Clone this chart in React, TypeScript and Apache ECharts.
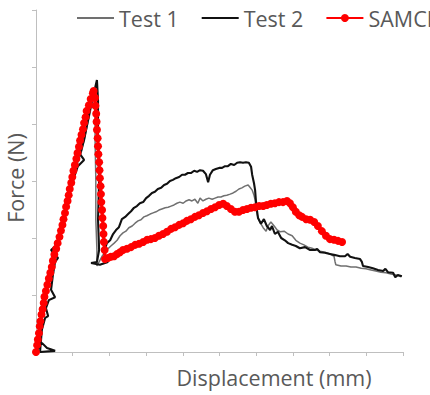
import { useEffect, useRef } from "react";
import * as echarts from "echarts";

const FONT = "'Open Sans', Lato, sans-serif";
const TEXT_COLOR = "#595959";
const AXIS_COLOR = "#bfbfbf";
const TEST1_COLOR = "#707070";
const TEST2_COLOR = "#111111";
const SAMCEF_COLOR = "#ff0000";

const seriesNames = ["Test 1", "Test 2", "SAMCEF"];
const xTitle = "Displacement (mm)";
const yTitle = "Force (N)";

// axis ranges (tick labels are not shown on this figure)
const xRange = { min: 0, max: 10, interval: 1 };
const yRange = { min: 0, max: 600, interval: 100 };

// Test 1: [displacement (mm), force (N)]
const test1Points: [number, number][] = [
  [0, 0], [0.08, 30], [0.14, 56], [0.22, 86], [0.27, 109], [0.35, 135],
  [0.44, 158], [0.52, 179], [0.6, 200], [0.71, 228], [0.82, 254], [0.93, 281],
  [1.04, 305], [1.14, 333], [1.25, 354], [1.34, 381], [1.42, 404], [1.5, 428],
  [1.55, 446], [1.58, 451], [1.61, 407], [1.61, 372], [1.63, 302], [1.63, 232],
  [1.66, 179], [1.66, 151], [1.72, 158], [1.8, 168], [1.88, 175], [1.96, 181],
  [2.04, 186], [2.13, 191], [2.21, 196], [2.29, 204], [2.37, 209], [2.45, 212],
  [2.53, 218], [2.62, 221], [2.7, 226], [2.78, 230], [2.86, 232], [2.94, 237],
  [3.02, 239], [3.11, 242], [3.19, 244], [3.27, 246], [3.35, 249], [3.43, 251],
  [3.52, 253], [3.6, 254], [3.68, 256], [3.76, 258], [3.84, 261], [3.92, 263],
  [4.01, 261], [4.09, 265], [4.17, 267], [4.25, 265], [4.33, 268], [4.41, 261],
  [4.47, 270], [4.55, 265], [4.63, 268], [4.71, 270], [4.8, 268], [4.88, 270],
  [4.96, 272], [5.04, 272], [5.12, 274], [5.2, 275], [5.29, 277], [5.37, 279],
  [5.45, 282], [5.53, 286], [5.61, 288], [5.69, 291], [5.78, 293], [5.83, 289],
  [5.89, 284], [5.94, 275], [5.97, 267], [5.99, 254], [6.02, 244], [6.05, 235],
  [6.1, 228], [6.19, 218], [6.27, 212], [6.32, 221], [6.4, 228], [6.49, 221],
  [6.57, 214], [6.65, 211], [6.76, 212], [6.87, 207], [6.98, 204], [7.08, 196],
  [7.19, 191], [7.3, 188], [7.41, 184], [7.52, 182], [7.63, 179], [7.74, 177],
  [7.87, 175], [8.01, 172], [8.12, 168], [8.15, 158], [8.17, 153], [8.31, 151],
  [8.45, 151], [8.58, 149], [8.72, 149], [8.86, 147], [8.99, 146], [9.13, 144],
  [9.26, 142], [9.4, 140], [9.54, 139], [9.67, 137], [9.81, 135], [9.95, 132],
];

// Test 2: [displacement (mm), force (N)]
const test2Points: [number, number][] = [
  [0, 0], [0.08, 9], [0.16, 16], [0.3, 7], [0.52, 2], [0.11, 0],
  [0.16, 39], [0.25, 60], [0.33, 63], [0.27, 77], [0.35, 91], [0.52, 96],
  [0.41, 109], [0.46, 135], [0.52, 158], [0.6, 165], [0.41, 179], [0.57, 188],
  [0.65, 211], [0.74, 232], [0.82, 258], [0.93, 284], [1.04, 307], [1.14, 326],
  [1.31, 337], [1.2, 347], [1.31, 372], [1.39, 398], [1.47, 425], [1.53, 442],
  [1.61, 463], [1.66, 477], [1.69, 442], [1.69, 372], [1.72, 302], [1.69, 232],
  [1.72, 179], [1.66, 158], [1.5, 156], [1.74, 153], [1.96, 158], [1.85, 175],
  [1.93, 191], [2.02, 196], [2.1, 207], [2.18, 214], [2.26, 219], [2.34, 233],
  [2.43, 237], [2.51, 242], [2.59, 247], [2.67, 253], [2.75, 256], [2.83, 261],
  [2.92, 263], [3.0, 270], [3.08, 274], [3.16, 279], [3.24, 281], [3.32, 286],
  [3.41, 288], [3.49, 293], [3.57, 295], [3.65, 300], [3.73, 302], [3.81, 305],
  [3.9, 307], [3.98, 311], [4.06, 311], [4.14, 314], [4.22, 314], [4.31, 318],
  [4.39, 316], [4.47, 319], [4.55, 318], [4.63, 312], [4.69, 298], [4.74, 311],
  [4.82, 319], [4.9, 321], [4.99, 323], [5.07, 323], [5.15, 326], [5.23, 326],
  [5.31, 330], [5.4, 328], [5.48, 332], [5.56, 333], [5.64, 332], [5.72, 333],
  [5.8, 332], [5.86, 325], [5.89, 311], [5.94, 296], [5.97, 284], [5.99, 267],
  [6.02, 249], [6.05, 235], [6.13, 225], [6.21, 233], [6.29, 221], [6.38, 214],
  [6.43, 221], [6.51, 207], [6.59, 211], [6.68, 200], [6.78, 196], [6.87, 191],
  [6.98, 188], [7.08, 186], [7.19, 182], [7.33, 184], [7.47, 179], [7.6, 179],
  [7.66, 181], [7.74, 175], [7.87, 174], [8.01, 172], [8.15, 170], [8.28, 168],
  [8.42, 168], [8.49, 172], [8.56, 167], [8.69, 165], [8.83, 163], [8.88, 158],
  [8.91, 151], [9.05, 149], [9.18, 147], [9.32, 144], [9.46, 142], [9.52, 146],
  [9.59, 140], [9.73, 139], [9.79, 131], [9.86, 135], [9.97, 133],
];

// SAMCEF simulation: [displacement (mm), force (N)]
const samcefPoints: [number, number][] = [
  [0, 0], [0.03, 12], [0.05, 22], [0.08, 33], [0.1, 45], [0.12, 54],
  [0.15, 66], [0.18, 75], [0.21, 86], [0.23, 97], [0.27, 107], [0.31, 118],
  [0.35, 129], [0.39, 139], [0.43, 149], [0.46, 160], [0.5, 171], [0.55, 181],
  [0.59, 191], [0.64, 202], [0.68, 213], [0.72, 223], [0.75, 233], [0.79, 244],
  [0.82, 255], [0.86, 265], [0.89, 275], [0.92, 286], [0.96, 297], [0.99, 307],
  [1.02, 318], [1.06, 328], [1.1, 339], [1.13, 349], [1.17, 360], [1.2, 371],
  [1.24, 381], [1.28, 391], [1.31, 402], [1.35, 412], [1.38, 423], [1.44, 433],
  [1.49, 444], [1.55, 454], [1.57, 458],
  [1.61, 446], [1.62, 432], [1.64, 418], [1.65, 404], [1.66, 390], [1.68, 375],
  [1.69, 361], [1.7, 347], [1.72, 333], [1.73, 319], [1.74, 305], [1.76, 291],
  [1.77, 277], [1.78, 263], [1.8, 249], [1.81, 235], [1.83, 221], [1.84, 207],
  [1.85, 193], [1.87, 179],
  [1.88, 163], [1.96, 165], [2.04, 167], [2.13, 168], [2.21, 172], [2.29, 175],
  [2.37, 179], [2.48, 181], [2.59, 184], [2.7, 188], [2.81, 190], [2.92, 193],
  [3.03, 197], [3.13, 198], [3.24, 200], [3.35, 204], [3.46, 207], [3.57, 211],
  [3.68, 216], [3.79, 219], [3.9, 223], [4.01, 226], [4.11, 230], [4.22, 233],
  [4.33, 237], [4.44, 240], [4.55, 244], [4.66, 247], [4.77, 251], [4.88, 254],
  [4.99, 258], [5.1, 260], [5.2, 256], [5.31, 251], [5.42, 246], [5.53, 246],
  [5.64, 249], [5.75, 251], [5.86, 253], [5.97, 254], [6.08, 256], [6.19, 256],
  [6.29, 258], [6.4, 260], [6.51, 261], [6.62, 263], [6.73, 263], [6.84, 265],
  [6.92, 261], [7.0, 254], [7.08, 246], [7.17, 240], [7.25, 237], [7.36, 233],
  [7.47, 232], [7.58, 228], [7.68, 221], [7.79, 212], [7.9, 204], [8.01, 198],
  [8.12, 197], [8.23, 195], [8.34, 193],
];

export default function App() {
  const ref = useRef<HTMLDivElement>(null);

  useEffect(() => {
    if (!ref.current) return;
    const chart = echarts.init(ref.current, undefined, { renderer: "svg" });

    const valueAxis = (range: { min: number; max: number; interval: number }) => ({
      type: "value" as const,
      min: range.min,
      max: range.max,
      interval: range.interval,
      axisLine: { show: true, lineStyle: { color: AXIS_COLOR, width: 1 } },
      axisTick: { show: true, length: 4, lineStyle: { color: AXIS_COLOR } },
      axisLabel: { show: false },
      splitLine: { show: false },
    });

    // plain line icons for the measured curves, line + dot for the simulation
    const plainLine = { itemStyle: { color: "transparent", borderWidth: 0 } };

    chart.setOption({
      animation: false,
      backgroundColor: "#ffffff",
      grid: { left: 36, right: 27, top: 10, bottom: 43, containLabel: false },
      xAxis: valueAxis(xRange),
      yAxis: valueAxis(yRange),
      legend: {
        data: [
          { name: seriesNames[0], ...plainLine },
          { name: seriesNames[1], ...plainLine },
          { name: seriesNames[2] },
        ],
        left: 76,
        top: 7,
        padding: 0,
        width: 800,
        itemWidth: 37,
        itemHeight: 10,
        itemGap: 22,
        textStyle: { fontFamily: FONT, fontSize: 21.5, color: TEXT_COLOR },
      },
      graphic: [
        {
          type: "text",
          x: 15,
          y: 178,
          rotation: Math.PI / 2,
          style: {
            text: yTitle,
            fontFamily: FONT,
            fontSize: 21.5,
            fill: TEXT_COLOR,
            textAlign: "center",
            textVerticalAlign: "middle",
          },
        },
        {
          type: "text",
          x: 274,
          y: 377,
          style: {
            text: xTitle,
            fontFamily: FONT,
            fontSize: 21.5,
            fill: TEXT_COLOR,
            textAlign: "center",
            textVerticalAlign: "middle",
          },
        },
      ],
      series: [
        {
          name: seriesNames[0],
          type: "line",
          data: test1Points,
          symbol: "none",
          lineStyle: { color: TEST1_COLOR, width: 1.5 },
          itemStyle: { color: TEST1_COLOR },
          z: 2,
        },
        {
          name: seriesNames[1],
          type: "line",
          data: test2Points,
          symbol: "none",
          lineStyle: { color: TEST2_COLOR, width: 2.1 },
          itemStyle: { color: TEST2_COLOR },
          z: 3,
        },
        {
          name: seriesNames[2],
          type: "line",
          data: samcefPoints,
          symbol: "circle",
          symbolSize: 8,
          lineStyle: { color: SAMCEF_COLOR, width: 3 },
          itemStyle: { color: SAMCEF_COLOR },
          z: 4,
        },
      ],
    });

    return () => chart.dispose();
  }, []);

  return (
    <div
      ref={ref}
      style={{ position: "fixed", left: 0, top: 0, width: 430, height: 395 }}
    />
  );
}
